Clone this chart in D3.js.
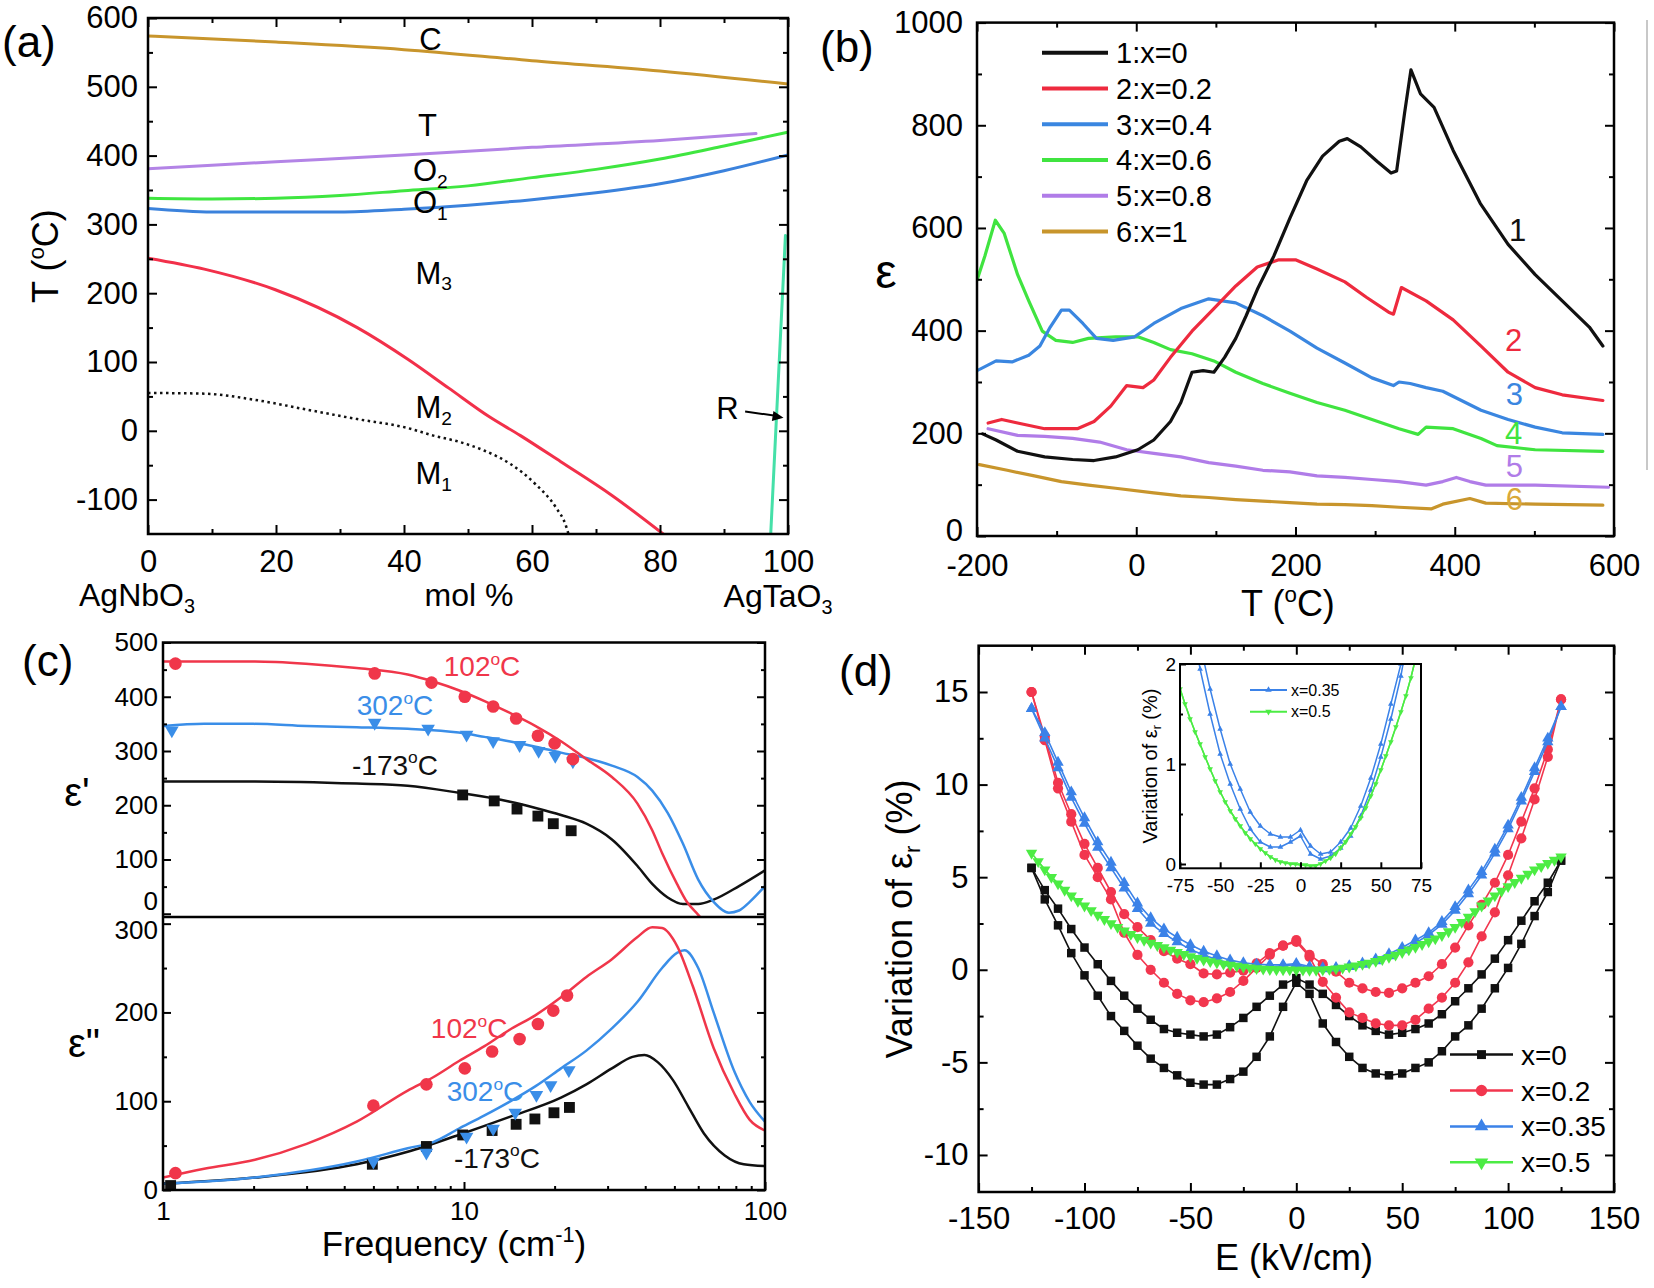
<!DOCTYPE html>
<html><head><meta charset="utf-8">
<script src="https://cdn.jsdelivr.net/npm/d3@7"></script>
<style>body{margin:0;background:#fff}svg{display:block}</style>
</head><body><svg id="c" width="1654" height="1288"></svg>
<script>
// ---------------- DATA ----------------
// (a) phase diagram AgNb(1-x)TaxO3 : mol % vs T (°C)
const aC_x = [0,20,40,60,80,100],                       aC_y = [574,565,554,538,523,504];
const aT_x = [0,20,40,60,80,95],                        aT_y = [381,391,401,412,422,432];
const aO2_x = [0,10,20,30,40,50,60,70,80,90,100],       aO2_y = [338,337,338,342,349,356,368,380,395,414,434];
const aO1_x = [0,10,20,30,40,50,60,70,80,90,100],       aO1_y = [323,318,318,318,322,328,336,346,359,378,401];
const aM_x = [0,8.8,19.9,32.7,40.6,47,53.4,58.2,64.5,72.5,80.5], aM_y = [251,235,205,150,104,62,20,-7,-45,-94,-150];
const aD_x = [0,8.8,16.7,24.7,32.7,40.6,44.6,48.6,52.6,56.6,60.6,63.7,65.3,65.7];
const aD_y = [55,54,45,31,17,4,-7,-16,-29,-48,-78,-111,-138,-150];
const aR_x = [97.3,99.6], aR_y = [-150,284];
const aXTicks = [0,20,40,60,80,100], aYTicks = [-100,0,100,200,300,400,500,600];

// (b) permittivity vs T
const bLegend = ["1:x=0","2:x=0.2","3:x=0.4","4:x=0.6","5:x=0.8","6:x=1"];
const b1T = [-193,-176,-149,-115,-80,-53,-26,2,22,43,56,70,84,97.5,111,125,138,152,173,193,214,234,255,265,282,303,320,327,337,345,357,374,398,432,467,501,535,569,586];
const b1E = [199,187,165,154,149,147,154,168,187,223,260,319,322,319,348,385,429,480,546,619,692,740,769,774,758,729,707,711,824,908,861,835,751,648,568,509,458,407,370];
const b2T = [-186,-169,-149,-115,-74,-53,-32,-12,8.5,22,43,70,97.5,125,152,179,200,227,262,289,317,323,333,364,398,433,467,501,535,586];
const b2E = [220,227,220,209,209,223,253,293,289,304,348,399,443,487,524,538,538,520,495,465,436,432,484,458,421,370,319,289,275,264];
const b3T = [-200,-176,-156,-135,-121,-108,-94,-84,-67,-50,-29,-2,22,56,91,125,159,193,227,262,296,323,330,344,364,385,433,467,501,535,586];
const b3E = [322,341,339,352,370,407,440,440,414,385,381,388,414,443,462,454,429,399,366,337,308,293,300,297,289,282,245,227,212,201,198];
const b4T = [-200,-190,-177,-166,-149,-135,-118,-101,-80,-60,-26,2,22,43,70,97.5,125,159,193,227,262,296,330,354,364,398,433,453,501,586];
const b4E = [498,546,615,590,509,458,399,381,377,385,388,388,377,363,355,341,319,297,278,260,245,227,209,198,212,209,190,176,168,165];
const b5T = [-186,-149,-115,-80,-46,-12,22,56,91,125,159,193,227,262,296,330,364,385,402,419,439,453,501,593];
const b5E = [209,196,194,190,183,168,161,154,143,136,128,125,117,114,110,106,99,106,114,106,99,99,99,95];
const b6T = [-197,-162,-128,-94,-60,-26,22,56,91,125,159,193,227,262,296,330,371,385,419,439,501,586];
const b6E = [139,128,117,106,99,93,84,78,75,71,68,65,62,61,59,56,53,62,73,64,62,60];
const bXTicks = [-200,0,200,400,600], bYTicks = [0,200,400,600,800,1000];

// (c) THz spectra: eps' (upper) and eps'' (lower)
const cRedF1 = [1,2.02,2.98,4.4,6.5,7.9,9.6,11.7,14.1,17.3,21,25.5,31,37.7,42.2,45.5,51,55,60,64];
const cRedE1 = [465,465,461,453,441,428,412,392,371,346,318,285,252,203,154,112,55,22,-2,-20];
const cBlueF1 = [1,1.37,2,3,4.4,6.5,9.6,11.7,14.1,17.3,21,25.5,31,37.7,42.2,47.5,53.4,60,67.5,75.9,82,89,100];
const cBlueE1 = [346,350,350,346,344,341,334,326,318,308,297,287,273,252,227,186,129,63,22,2,6,22,51];
const cBlackF1 = [1,2.02,4.4,6.5,9.6,14.1,17.3,21,25.5,31,37.7,42.2,47.5,53.4,60,67.5,82,100];
const cBlackE1 = [244,244,240,236,223,207,195,182,166,137,88,55,30,18,18,26,51,80];
const cRedPtF1 = [1.1,5.05,7.8,10.06,12.5,14.9,17.6,20,23],       cRedPtE1 = [461,443,426,400,382,360,328,314,285];
const cBluePtF1 = [1.07,5.05,7.6,10.2,12.5,15.3,17.7,20.1,23],    cBluePtE1 = [338,352,341,330,318,311,300,291,281];
const cBlackPtF1 = [9.9,12.6,15,17.6,19.8,22.7],                  cBlackPtE1 = [219,208,193,180,166,153];
const cRedF2 = [1,1.37,2.02,3,4.4,6.5,7.9,9.6,11.7,14.1,17.3,21,25.5,31,37.7,42.2,45.5,51,57.5,67.5,79,89,100];
const cRedE2 = [14,24,34,52,77,112,127,145,162,180,197,217,240,260,285,296,295,275,230,160,109,79,67];
const cBlueF2 = [1,2.02,4.4,6.5,7.9,9.6,11.7,14.1,17.3,21,25.5,31,37.7,45.5,51,54,60,67.5,79,89,100];
const cBlueE2 = [7,14,32,47,54,69,84,99,117,137,157,182,212,250,267,270,250,200,134,99,77];
const cBlackF2 = [1,2.02,4.4,6.5,9.6,14.1,21,25.5,31,36.3,39.8,44,49.4,55.6,62.6,73.5,85,100];
const cBlackE2 = [7,14,29,43,62,82,104,119,137,150,152,144,124,94,64,39,29,27];
const cRedPtF2 = [1.1,5,7.5,10.06,12.4,15.3,17.6,19.8,22],        cRedPtE2 = [19,95,119,137,156,170,187,202,219];
const cBluePtF2 = [5.0,7.5,10.2,12.5,14.8,17.4,19.4,22.3],        cBluePtE2 = [32,42,60,69,87,107,118,135];
const cBlackPtF2 = [1.06,4.96,7.5,9.9,12.4,14.9,17.2,19.9,22.4],  cBlackPtE2 = [5,29,49,62,67,74,80,87,93];
const cXTicks = [1,10,100], cY1Ticks = [0,100,200,300,400,500], cY2Ticks = [0,100,200,300];

// (d) field dependence of permittivity (two sweep branches per composition)
const dLegend = ["x=0","x=0.2","x=0.35","x=0.5"];
const dE = [-125,-118.75,-112.5,-106.25,-100,-93.75,-87.5,-81.25,-75,-68.75,-62.5,-56.25,-50,-43.75,-37.5,-31.25,-25,-18.75,-12.5,-6.25,0,6.25,12.5,18.75,25,31.25,37.5,43.75,50,56.25,62.5,68.75,75,81.25,87.5,93.75,100,106.25,112.5,118.75,125];
const dEmid = [-121.875,-115.625,-109.375,-103.125,-96.875,-90.625,-84.375,-78.125,-71.875,-65.625,-59.375,-53.125,-46.875,-40.625,-34.375,-28.125,-21.875,-15.625,-9.375,-3.125,3.125,9.375,15.625,21.875,28.125,34.375,40.625,46.875,53.125,59.375,65.625,71.875,78.125,84.375,90.625,96.875,103.125,109.375,115.625,121.875];
const dBlackA = [5.5,3.8,2.4,0.9,-0.3,-1.4,-2.5,-3.3,-4.1,-4.8,-5.3,-5.7,-6.1,-6.2,-6.2,-5.9,-5.5,-4.7,-3.6,-2.0,-0.7,-1.3,-2.9,-3.9,-4.7,-5.3,-5.6,-5.7,-5.6,-5.3,-5.0,-4.4,-3.6,-3.0,-2.1,-1.0,0.1,1.4,2.9,4.2,5.9];
const dBlackB = [5.5,4.3,3.3,2.2,1.2,0.3,-0.6,-1.4,-2.1,-2.7,-3.2,-3.4,-3.5,-3.6,-3.5,-3.1,-2.6,-2.0,-1.4,-0.8,-0.45,-0.8,-1.3,-1.9,-2.5,-3.0,-3.3,-3.5,-3.4,-3.2,-2.9,-2.4,-1.7,-1.0,-0.25,0.6,1.6,2.65,3.7,4.7,5.9];
const dRedA = [15.0,12.4,9.8,8.0,6.2,5.0,3.8,2.0,0.8,0.0,-0.7,-1.3,-1.65,-1.75,-1.55,-1.2,-0.6,0.1,0.8,1.3,1.5,0.7,-0.65,-1.5,-2.3,-2.6,-2.9,-3.0,-3.0,-2.7,-2.1,-1.5,-0.7,0.4,1.8,3.1,5.1,7.1,9.2,11.5,14.6];
const dRedB = [15.0,12.6,10.1,8.4,6.8,5.5,4.2,3.0,2.3,1.6,1.0,0.6,0.3,-0.2,-0.25,-0.15,-0.05,0.35,0.9,1.3,1.6,0.8,0.3,-0.1,-0.7,-1.0,-1.2,-1.25,-1.0,-0.7,-0.35,0.3,1.2,2.4,3.5,4.7,6.2,8.0,9.8,11.9,14.6];
const dBlueA = [14.1,12.8,11.2,9.6,8.2,6.9,5.8,4.7,3.6,2.8,2.2,1.75,1.35,1.0,0.75,0.52,0.38,0.3,0.27,0.27,0.34,0.18,0.1,0.12,0.22,0.36,0.58,0.86,1.2,1.6,2.0,2.6,3.4,4.3,5.3,6.5,7.8,9.3,10.9,12.5,14.2];
const dBlueB = [14.1,12.5,10.9,9.3,7.9,6.6,5.5,4.4,3.3,2.5,1.95,1.5,1.1,0.8,0.55,0.35,0.22,0.17,0.17,0.22,0.28,0.1,0.05,0.08,0.16,0.28,0.48,0.74,1.07,1.45,1.88,2.45,3.2,4.1,5.1,6.3,7.6,9.1,10.7,12.3,14.2];
const dGreenA = [6.3,5.4,4.65,4.0,3.45,2.95,2.5,2.1,1.75,1.45,1.2,0.95,0.72,0.53,0.38,0.25,0.15,0.07,0.02,0.0,-0.01,-0.02,0.0,0.06,0.16,0.3,0.46,0.68,0.94,1.22,1.52,1.86,2.3,2.85,3.45,4.0,4.5,4.95,5.4,5.75,6.1];
const dGreenB = [5.85,5.0,4.3,3.7,3.2,2.72,2.3,1.92,1.6,1.32,1.07,0.83,0.62,0.45,0.31,0.2,0.11,0.04,0.01,0.0,-0.01,-0.02,0.03,0.1,0.22,0.37,0.56,0.8,1.08,1.37,1.68,2.06,2.57,3.15,3.72,4.25,4.72,5.17,5.58,5.92];
const dXTicks = [-150,-100,-50,0,50,100,150], dYTicks = [-10,-5,0,5,10,15];
const iXTicks = [-75,-50,-25,0,25,50,75], iYTicks = [0,1,2];
const iLegend = ["x=0.35","x=0.5"];

// ---------------- HELPERS ----------------
const FONT = '"Liberation Sans", Arial, Helvetica, sans-serif';
const svg = d3.select('#c').attr('font-family', FONT);
svg.append('rect').attr('width',1654).attr('height',1288).attr('fill','#fff');
const defs = svg.append('defs');
function clip(id, x0, y0, x1, y1){
  defs.append('clipPath').attr('id',id).append('rect').attr('x',x0).attr('y',y0).attr('width',x1-x0).attr('height',y1-y0);
  return `url(#${id})`;
}
// parts: [text, 'sup'|'sub'|undefined]
function rich(g, x, y, parts, size, o={}){
  const t = g.append('text').attr('x',x).attr('y',y).attr('font-size',size)
    .attr('text-anchor',o.anchor||'start').attr('fill',o.fill||'#000');
  if(o.rotate) t.attr('transform',`rotate(${o.rotate},${x},${y})`);
  let shift = 0;
  parts.forEach(p=>{
    const target = p[1]==='sup' ? -0.4*size : p[1]==='sub' ? 0.22*size : 0;
    const s = t.append('tspan').text(p[0]).attr('dy', target-shift);
    if(p[1]) s.attr('font-size', 0.62*size);
    shift = target;
  });
  return t;
}
function tickAxis(g, orient, scale, vals, len, fmt, tr, pad, fs){
  const fn = {bottom:d3.axisBottom, top:d3.axisTop, left:d3.axisLeft, right:d3.axisRight}[orient];
  const a = fn(scale).tickValues(vals).tickSizeInner(-len).tickSizeOuter(0).tickPadding(pad)
    .tickFormat(fmt || (()=> ''));
  const s = g.append('g').attr('transform',tr).call(a);
  s.attr('font-family',FONT).attr('font-size',fs);
  s.select('.domain').remove();
  s.selectAll('.tick line').attr('stroke','#000').attr('stroke-width',2);
  s.selectAll('.tick text').attr('fill','#000');
  return s;
}
const fmt = d => String(d);
function axesBox(g, x, y, o){
  const [xl,xr] = x.range(), [yb,yt] = y.range();
  const M = o.major||9, m = o.minor||5;
  if(o.xMajor){
    tickAxis(g,'bottom',x,o.xMajor,M,o.xLab===false?null:fmt,`translate(0,${yb})`,o.xPad,o.fs);
    if(o.xMinor) tickAxis(g,'bottom',x,o.xMinor,m,null,`translate(0,${yb})`,0,o.fs);
    if(o.top!==false){
      tickAxis(g,'top',x,o.xMajor,M,null,`translate(0,${yt})`,0,o.fs);
      if(o.xMinor) tickAxis(g,'top',x,o.xMinor,m,null,`translate(0,${yt})`,0,o.fs);
    }
  }
  const left = tickAxis(g,'left',y,o.yMajor,M,fmt,`translate(${xl},0)`,o.yPad,o.fs);
  if(o.yMinor) tickAxis(g,'left',y,o.yMinor,m,null,`translate(${xl},0)`,0,o.fs);
  if(o.right!==false){
    tickAxis(g,'right',y,o.yMajor,M,null,`translate(${xr},0)`,0,o.fs);
    if(o.yMinor) tickAxis(g,'right',y,o.yMinor,m,null,`translate(${xr},0)`,0,o.fs);
  }
  return left;
}
function box(g, x, y, sw){
  const [xl,xr] = x.range(), [yb,yt] = y.range();
  g.append('rect').attr('x',xl).attr('y',yt).attr('width',xr-xl).attr('height',yb-yt)
    .attr('fill','none').attr('stroke','#000').attr('stroke-width',sw||2.5);
}
function curve(g, x, y, xs, ys, color, w, cv, cp, dash){
  const p = g.append('path').datum(d3.zip(xs,ys))
    .attr('d', d3.line().x(d=>x(d[0])).y(d=>y(d[1])).curve(cv||d3.curveLinear))
    .attr('fill','none').attr('stroke',color).attr('stroke-width',w)
    .attr('stroke-linejoin','round').attr('stroke-linecap', dash?'butt':'round');
  if(cp) p.attr('clip-path',cp);
  if(dash) p.attr('stroke-dasharray',dash);
  return p;
}
function marks(g, x, y, xs, ys, type, size, color, cp, rot){
  const sym = d3.symbol().type(type).size(size);
  const s = g.append('g');
  if(cp) s.attr('clip-path',cp);
  s.selectAll('path').data(d3.zip(xs,ys)).join('path')
    .attr('d', sym)
    .attr('transform', d=>`translate(${x(d[0])},${y(d[1])})${rot?' rotate(180)':''}`)
    .attr('fill', color);
  return s;
}

// ---------------- PANEL (a) ----------------
const gA = svg.append('g');
const xA = d3.scaleLinear([0,100],[148,788]);
const yA = d3.scaleLinear([-150,600],[534,18]);
const cpA = clip('cpA',148,18,788,534);
const aCols = {C:'#c8952c', T:'#b384e6', O2:'#3fe640', O1:'#3b82dc', M:'#f2304a', R:'#45e0a8'};
curve(gA,xA,yA,aC_x,aC_y,aCols.C,3,d3.curveMonotoneX,cpA);
curve(gA,xA,yA,aT_x,aT_y,aCols.T,3,d3.curveMonotoneX,cpA);
curve(gA,xA,yA,aO2_x,aO2_y,aCols.O2,3,d3.curveMonotoneX,cpA);
curve(gA,xA,yA,aO1_x,aO1_y,aCols.O1,3,d3.curveMonotoneX,cpA);
curve(gA,xA,yA,aM_x,aM_y,aCols.M,3,d3.curveMonotoneX,cpA);
curve(gA,xA,yA,aD_x,aD_y,'#111',2.5,d3.curveMonotoneX,cpA,'2.5,3.5');
curve(gA,xA,yA,aR_x,aR_y,aCols.R,3,d3.curveLinear,cpA);
box(gA,xA,yA,2.5);
axesBox(gA,xA,yA,{xMajor:aXTicks,xMinor:[10,30,50,70,90],yMajor:aYTicks,yMinor:[-50,50,150,250,350,450,550],fs:31,xPad:16,yPad:10});
const aLab = [[42.4,570,[['C']]],[42.2,445,[['T']]],[41.4,379,[['O'],['2','sub']]],[41.4,333,[['O'],['1','sub']]],
  [41.8,230,[['M'],['3','sub']]],[41.8,34,[['M'],['2','sub']]],[41.8,-62,[['M'],['1','sub']]],[88.8,33,[['R']]]];
aLab.forEach(l=>rich(gA,xA(l[0]),yA(l[1])+11,l[2],31));
// arrow for R
{
  const x0=xA(93.3), y0=yA(28), x1=xA(99.3), y1=yA(19);
  gA.append('line').attr('x1',x0).attr('y1',y0).attr('x2',x1-8).attr('y2',y1-2).attr('stroke','#000').attr('stroke-width',2);
  const ang = Math.atan2(y1-y0,x1-x0);
  const hl=11, hw=5;
  const bx=x1-hl*Math.cos(ang), by=y1-hl*Math.sin(ang);
  gA.append('path').attr('d',`M${x1},${y1}L${bx-hw*Math.sin(ang)},${by+hw*Math.cos(ang)}L${bx+hw*Math.sin(ang)},${by-hw*Math.cos(ang)}Z`).attr('fill','#000');
}
rich(gA,58,256,[['T ('],['o','sup'],['C)']],36,{anchor:'middle',rotate:-90});
rich(gA,137,606,[['AgNbO'],['3','sub']],32,{anchor:'middle'});
rich(gA,469,606,[['mol %']],32,{anchor:'middle'});
rich(gA,778,607,[['AgTaO'],['3','sub']],32,{anchor:'middle'});
rich(gA,2,57,[['(a)']],44);

// ---------------- PANEL (b) ----------------
const gB = svg.append('g');
const xB = d3.scaleLinear([-200,600],[977,1614]);
const yB = d3.scaleLinear([0,1000],[536,22.6]);
const cpB = clip('cpB',977,22.6,1614,536);
const bCols = ['#111111','#ee2a3e','#3a86e0','#40e440','#b07ce8','#c8952c'];
const bSeries = [[b1T,b1E],[b2T,b2E],[b3T,b3E],[b4T,b4E],[b5T,b5E],[b6T,b6E]];
[5,4,3,2,1,0].forEach(i=>curve(gB,xB,yB,bSeries[i][0],bSeries[i][1],bCols[i],3.2,d3.curveLinear,cpB));
box(gB,xB,yB,2.5);
const bLeft = axesBox(gB,xB,yB,{xMajor:bXTicks,xMinor:[-100,100,300,500],yMajor:bYTicks,yMinor:[100,300,500,700,900],fs:31,xPad:18,yPad:14});
bLeft.selectAll('.tick').filter(d=>d===0).select('text').attr('transform','translate(0,-5)');
bLegend.forEach((t,i)=>{
  const yy = 52.7 + i*35.76;
  gB.append('line').attr('x1',1042).attr('x2',1108).attr('y1',yy).attr('y2',yy).attr('stroke',bCols[i]).attr('stroke-width',4);
  rich(gB,1116,yy+10.5,[[t]],29);
});
const bNum = [[479,597],[474,381],[475,276],[474,201],[475,137],[475,73]];
const bNumCols = ['#111111','#ee2a3e','#3a86e0','#40e440','#b07ce8','#d9a83a'];
bNum.forEach((p,i)=>rich(gB,xB(p[0]),yB(p[1])+11,[[String(i+1)]],31,{anchor:'middle',fill:bNumCols[i]}));
rich(gB,886,288,[['ε']],48,{anchor:'middle'});
rich(gB,1288,616,[['T ('],['o','sup'],['C)']],36,{anchor:'middle'});
rich(gB,820,62,[['(b)']],44);
gB.append('line').attr('x1',1647).attr('x2',1647).attr('y1',20).attr('y2',470).attr('stroke','#c8c8c8').attr('stroke-width',2);

// ---------------- PANEL (c) ----------------
const gC = svg.append('g');
const xC = d3.scaleLog([1,100],[163,765]);
const yC1 = d3.scaleLinear([-6,500],[917,642.5]);
const yC2 = d3.scaleLinear([0,307.5],[1190,917]);
const cpC1 = clip('cpC1',163,642.5,765,917);
const cpC2 = clip('cpC2',163,917,765,1190);
const cR='#f0364a', cB='#3a8ee8', cK='#111111';
curve(gC,xC,yC1,cBlackF1,cBlackE1,cK,2.5,d3.curveMonotoneX,cpC1);
curve(gC,xC,yC1,cBlueF1,cBlueE1,cB,2.5,d3.curveMonotoneX,cpC1);
curve(gC,xC,yC1,cRedF1,cRedE1,cR,2.5,d3.curveMonotoneX,cpC1);
marks(gC,xC,yC1,cBlackPtF1,cBlackPtE1,d3.symbolSquare,118,cK,cpC1);
marks(gC,xC,yC1,cBluePtF1,cBluePtE1,d3.symbolTriangle,80,cB,cpC1,true);
marks(gC,xC,yC1,cRedPtF1,cRedPtE1,d3.symbolCircle,125,cR,cpC1);
curve(gC,xC,yC2,cBlackF2,cBlackE2,cK,2.5,d3.curveMonotoneX,cpC2);
curve(gC,xC,yC2,cBlueF2,cBlueE2,cB,2.5,d3.curveMonotoneX,cpC2);
curve(gC,xC,yC2,cRedF2,cRedE2,cR,2.5,d3.curveMonotoneX,cpC2);
marks(gC,xC,yC2,cBlackPtF2,cBlackPtE2,d3.symbolSquare,118,cK,cpC2);
marks(gC,xC,yC2,cBluePtF2,cBluePtE2,d3.symbolTriangle,80,cB,cpC2,true);
marks(gC,xC,yC2,cRedPtF2,cRedPtE2,d3.symbolCircle,125,cR,cpC2);
// boxes
gC.append('rect').attr('x',163).attr('y',642.5).attr('width',602).attr('height',547.5).attr('fill','none').attr('stroke','#000').attr('stroke-width',2.5);
gC.append('line').attr('x1',163).attr('x2',765).attr('y1',917).attr('y2',917).attr('stroke','#000').attr('stroke-width',2.5);
const cMinorX = [2,3,4,5,6,7,8,9,20,30,40,50,60,70,80,90];
const cLeft1 = axesBox(gC,xC,yC1,{yMajor:cY1Ticks,yMinor:[50,150,250,350,450],fs:26,yPad:5,major:8,minor:4});
const cLeft2 = axesBox(gC,xC,yC2,{xMajor:cXTicks,xMinor:cMinorX,top:false,yMajor:cY2Ticks,yMinor:[50,150,250],fs:26,xPad:12,yPad:5,major:8,minor:4});
// labels at the shared border are offset as in the original figure
cLeft1.selectAll('.tick').filter(d=>d===0).select('text').attr('transform','translate(0,-13)');
cLeft2.selectAll('.tick').filter(d=>d===300).select('text').attr('transform','translate(0,7)');
const cAnn = [
  [yC1,11.48,456,cR,'102'],[yC1,5.9,385,cB,'302'],[yC1,5.9,275,cK,'-173'],
  [yC2,10.4,182,cR,'102'],[yC2,11.74,111.5,cB,'302'],[yC2,12.87,36.4,cK,'-173']];
cAnn.forEach(a=>rich(gC,xC(a[1]),a[0](a[2])+10,[[a[4]],['o','sup'],['C']],28,{anchor:'middle',fill:a[3]}));
rich(gC,77,806,[["ε'"]],40,{anchor:'middle'});
rich(gC,84,1057,[['ε"']],40,{anchor:'middle'});
rich(gC,454,1256,[['Frequency (cm'],['-1','sup'],[')']],35,{anchor:'middle'});
rich(gC,22,676,[['(c)']],44);

// ---------------- PANEL (d) ----------------
const gD = svg.append('g');
const xD = d3.scaleLinear([-150,150],[978.6,1614]);
const yD = d3.scaleLinear([-12,17.5],[1192,645.7]);
const cpD = clip('cpD',978.6,645.7,1614,1192);
const dK='#111111', dR='#f2364e', dB='#3b82e8', dG='#4cec44';
const dSeries = [
  {E:dE, V:dBlackA, c:dK, t:d3.symbolSquare, s:72, rot:false},
  {E:dE, V:dBlackB, c:dK, t:d3.symbolSquare, s:72, rot:false},
  {E:dE, V:dRedA, c:dR, t:d3.symbolCircle, s:82, rot:false},
  {E:dE, V:dRedB, c:dR, t:d3.symbolCircle, s:82, rot:false},
  {E:dE, V:dBlueA, c:dB, t:d3.symbolTriangle, s:56, rot:false},
  {E:dE, V:dBlueB, c:dB, t:d3.symbolTriangle, s:56, rot:false},
  {E:dE, V:dGreenA, c:dG, t:d3.symbolTriangle, s:56, rot:true},
  {E:dEmid, V:dGreenB, c:dG, t:d3.symbolTriangle, s:56, rot:true}];
dSeries.forEach(s=>{
  curve(gD,xD,yD,s.E,s.V,s.c,1.6,d3.curveLinear,cpD);
  marks(gD,xD,yD,s.E,s.V,s.t,s.s,s.c,cpD,s.rot);
});
box(gD,xD,yD,2.5);
axesBox(gD,xD,yD,{xMajor:dXTicks,xMinor:[-125,-75,-25,25,75,125],yMajor:dYTicks,yMinor:[-7.5,-2.5,2.5,7.5,12.5],fs:31,xPad:15,yPad:10});
const dLegCols = [dK,dR,dB,dG], dLegT = [d3.symbolSquare,d3.symbolCircle,d3.symbolTriangle,d3.symbolTriangle];
dLegend.forEach((t,i)=>{
  const yy = 1054.6 + i*35.9;
  gD.append('line').attr('x1',1450).attr('x2',1513).attr('y1',yy).attr('y2',yy).attr('stroke',dLegCols[i]).attr('stroke-width',2.5);
  gD.append('path').attr('d',d3.symbol().type(dLegT[i]).size(i===1?100:80)()).attr('fill',dLegCols[i])
    .attr('transform',`translate(1481.5,${yy})${i===3?' rotate(180)':''}`);
  rich(gD,1521,yy+10,[[t]],28);
});
rich(gD,912,919,[['Variation of ε'],['r','sub'],[' (%)']],36,{anchor:'middle',rotate:-90});
rich(gD,1294,1270,[['E (kV/cm)']],36,{anchor:'middle'});
rich(gD,839,686,[['(d)']],44);

// inset
const gI = svg.append('g');
const xI = d3.scaleLinear([-75,75],[1180,1421]);
const yI = d3.scaleLinear([-0.043,2],[868.3,664]);
gI.append('rect').attr('x',1180).attr('y',664).attr('width',241).attr('height',204.3).attr('fill','#fff');
const cpI = clip('cpI',1180,664,1421,868.3);
[{E:dE,V:dBlueA,c:dB,r:false},{E:dE,V:dBlueB,c:dB,r:false},{E:dE,V:dGreenA,c:dG,r:true},{E:dEmid,V:dGreenB,c:dG,r:true}].forEach(s=>{
  curve(gI,xI,yI,s.E,s.V,s.c,1.5,d3.curveLinear,cpI);
  marks(gI,xI,yI,s.E,s.V,d3.symbolTriangle,14,s.c,cpI,s.r);
});
box(gI,xI,yI,2);
axesBox(gI,xI,yI,{xMajor:iXTicks,yMajor:iYTicks,yMinor:[0.5,1.5],fs:19,xPad:10,yPad:4,major:6,minor:3,top:false,right:false});
iLegend.forEach((t,i)=>{
  const yy = 690 + i*21.7;
  const c = i===0?dB:dG;
  gI.append('line').attr('x1',1250).attr('x2',1287).attr('y1',yy).attr('y2',yy).attr('stroke',c).attr('stroke-width',2);
  gI.append('path').attr('d',d3.symbol().type(d3.symbolTriangle).size(18)()).attr('fill',c)
    .attr('transform',`translate(1268.5,${yy})${i===1?' rotate(180)':''}`);
  rich(gI,1291,yy+5.5,[[t]],16);
});
rich(gI,1157,766,[['Variation of ε'],['r','sub'],[' (%)']],20,{anchor:'middle',rotate:-90});
</script></body></html>
